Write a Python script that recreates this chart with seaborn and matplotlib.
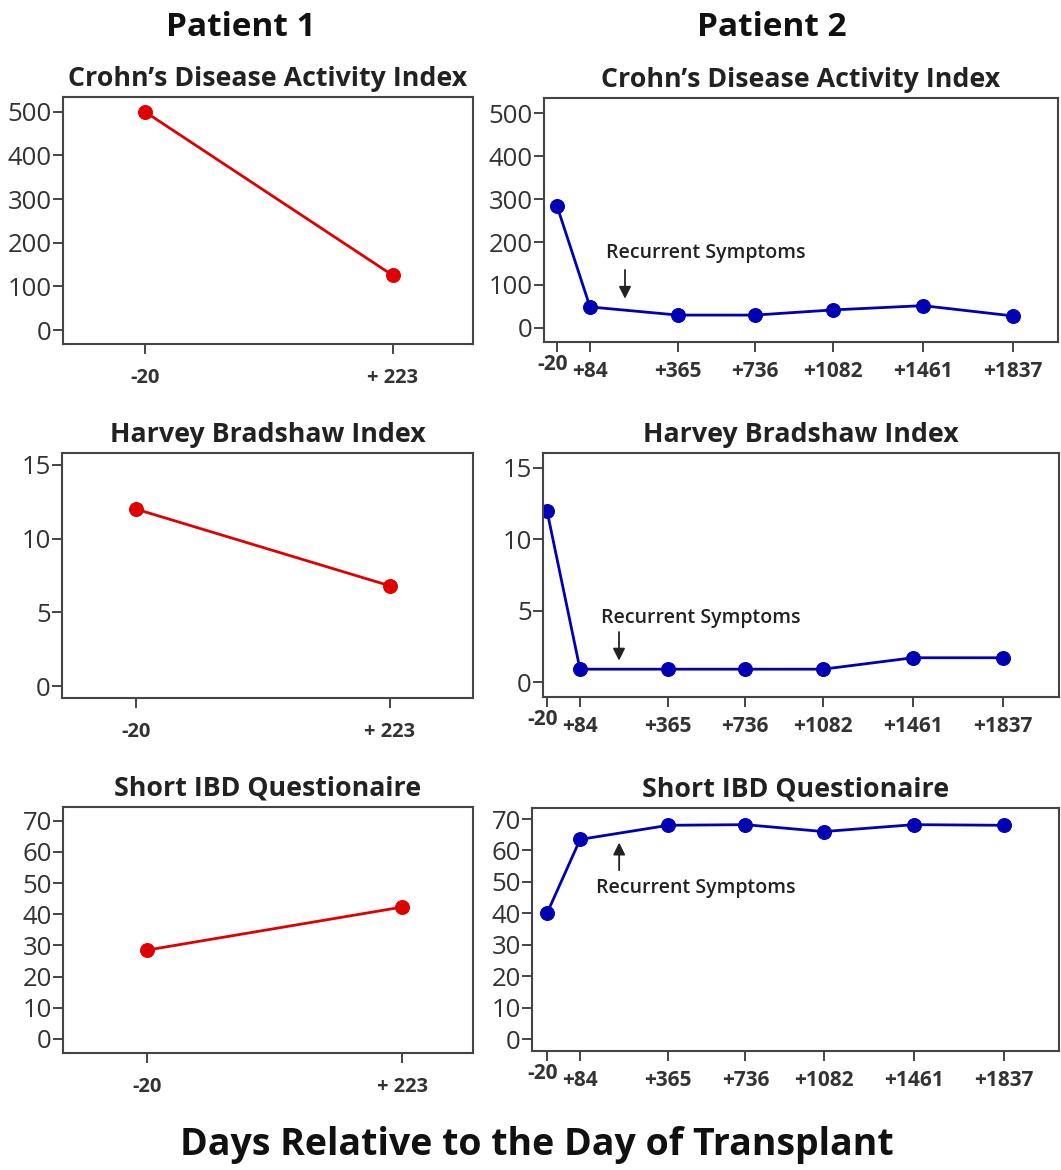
import matplotlib
matplotlib.use("Agg")
import matplotlib.pyplot as plt
import seaborn as sns
import pandas as pd

sns.set_theme(style="white")
plt.rcParams['font.family'] = ['Open Sans', 'DejaVu Sans']

# ---------------- data ----------------
p1_days = ["-20", "+ 223"]
p2_days = ["-20", "+84", "+365", "+736", "+1082", "+1461", "+1837"]

p1_cdai = [500, 125]
p1_hbi = [12, 6.8]
p1_sibdq = [28.5, 42.3]

p2_cdai = [284, 49, 30, 30, 42, 52, 28]
p2_hbi = [12, 0.9, 0.9, 0.9, 0.9, 1.7, 1.7]
p2_sibdq = [40, 63.5, 68, 68.2, 66, 68.2, 68]

titles = ["Crohn\u2019s Disease Activity Index", "Harvey Bradshaw Index", "Short IBD Questionaire"]
annot_text = "Recurrent Symptoms"

# ---------------- layout ----------------
W, H = 1061, 1170
p1_pos = [0, 1]
p2_pos = [0, 33, 121, 198, 276, 366, 456]

boxes = {  # (x0, x1, ytop, ybottom) in pixels
    (0, 0): (63, 473, 97, 344), (0, 1): (544, 1058, 98, 342),
    (1, 0): (62, 473, 453, 698), (1, 1): (543, 1059, 453, 697),
    (2, 0): (63, 473, 807, 1053), (2, 1): (532, 1059, 808, 1051),
}
xlims = {
    (0, 0): (-0.331, 1.323), (0, 1): (-13, 501),
    (1, 0): (-0.291, 1.327), (1, 1): (-4, 512),
    (2, 0): (-0.329, 1.278), (2, 1): (-15, 511),
}
ylims = {
    (0, 0): (-32, 534), (0, 1): (-32.6, 535),
    (1, 0): (-0.8, 15.8), (1, 1): (-1.05, 16.05),
    (2, 0): (-4.5, 74.4), (2, 1): (-3.8, 73.5),
}
yticks = [[0, 100, 200, 300, 400, 500], [0, 5, 10, 15], [0, 10, 20, 30, 40, 50, 60, 70]]
annots = [  # (arrow x, tail y, tip y, text x, text y)
    (68, 135, 68, 49, 174),
    (72, 3.5, 1.5, 54, 4.5),
    (72, 53.7, 62.5, 49, 48.2),
]

RED = "#e00000"
BLUE = "#0000b4"
SPINE = "#444444"
TXT = "#333333"

fig = plt.figure(figsize=(W / 100, H / 100), dpi=100)

p1_data = [p1_cdai, p1_hbi, p1_sibdq]
p2_data = [p2_cdai, p2_hbi, p2_sibdq]

for r in range(3):
    for c in range(2):
        x0, x1, yt, yb = boxes[(r, c)]
        ax = fig.add_axes([x0 / W, 1 - yb / H, (x1 - x0) / W, (yb - yt) / H])
        if c == 0:
            df = pd.DataFrame({"x": p1_pos, "y": p1_data[r]})
            color = RED
        else:
            df = pd.DataFrame({"x": p2_pos, "y": p2_data[r]})
            color = BLUE
        sns.lineplot(data=df, x="x", y="y", ax=ax, color=color, lw=2,
                     marker="o", markersize=10, markeredgecolor=color,
                     markerfacecolor=color, sort=False)
        ax.set_xlim(*xlims[(r, c)])
        ax.set_ylim(*ylims[(r, c)])
        ax.set_yticks(yticks[r])
        ax.set_yticklabels([str(v) for v in yticks[r]], fontsize=18.5, color=TXT)
        ax.set_xlabel("")
        ax.set_ylabel("")
        for s in ax.spines.values():
            s.set_color(SPINE)
            s.set_linewidth(1.5)
        ax.tick_params(axis="both", direction="out", length=7, width=1.4,
                       color=SPINE, left=True, bottom=True)
        ax.tick_params(axis="y", pad=1)
        ax.set_title(titles[r], fontsize=19.3, fontweight="bold", color="#222222", pad=8)
        if c == 0:
            ax.set_xticks(p1_pos)
            ax.set_xticklabels(p1_days, fontsize=14.5, fontweight="bold", color=TXT)
            ax.tick_params(axis="x", pad=10)
        else:
            ax.set_xticks(p2_pos)
            labs = [""] + p2_days[1:]
            ax.set_xticklabels(labs, fontsize=15, fontweight="bold", color=TXT)
            ax.tick_params(axis="x", pad=7)
            ax.annotate(p2_days[0], xy=(p2_pos[0], 0), xycoords=ax.get_xaxis_transform(),
                        xytext=(-3, -8.5), textcoords="offset points",
                        ha="center", va="top", fontsize=15, fontweight="bold", color=TXT,
                        annotation_clip=False)
            ax_, ty, tp, tx, txy = annots[r]
            ax.annotate("", xy=(ax_, tp), xytext=(ax_, ty),
                        arrowprops=dict(arrowstyle="-|>,head_length=0.6,head_width=0.3",
                                        color="#222222", lw=1.3, shrinkA=0, shrinkB=0))
            ax.text(tx, txy, annot_text, ha="left", va="center", fontsize=14,
                    fontweight="semibold", color="#222222")

fig.text(241 / W, 1 - 27 / H, "Patient 1", ha="center", va="center",
         fontsize=24, fontweight="bold", color="#111111")
fig.text(772 / W, 1 - 27 / H, "Patient 2", ha="center", va="center",
         fontsize=24, fontweight="bold", color="#111111")
fig.text(537 / W, 1 - 1145 / H, "Days Relative to the Day of Transplant", ha="center",
         va="center", fontsize=27, fontweight="bold", color="#111111")

fig.savefig("out.png", dpi=100, facecolor="white")
